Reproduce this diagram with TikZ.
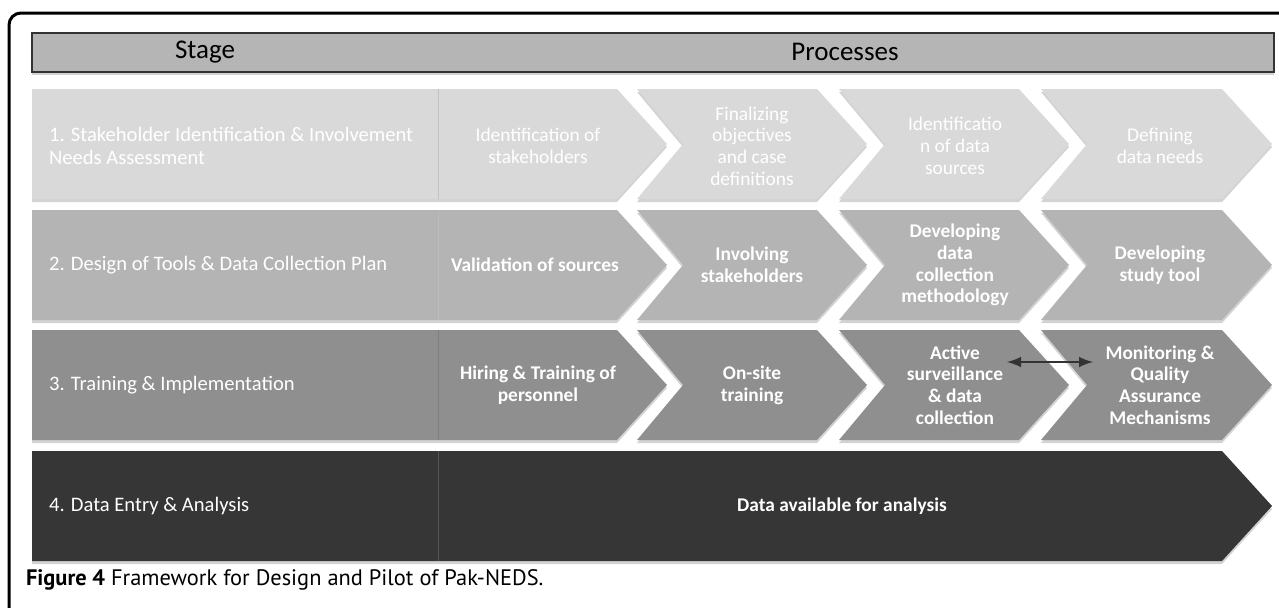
\documentclass[tikz,border=0pt]{standalone}
\usepackage{fontspec}
\setmainfont{Carlito}
\newfontfamily\capfont{PT Sans}
\usetikzlibrary{shadows}
\definecolor{rowA}{HTML}{D9D9D9}
\definecolor{rowB}{HTML}{B4B4B4}
\definecolor{rowC}{HTML}{8F8F8F}
\definecolor{rowD}{HTML}{363636}
\definecolor{headfill}{HTML}{B5B5B5}
\begin{document}
\begin{tikzpicture}[x=0.5pt,y=-0.5pt,>=latex,
    shade/.style={drop shadow={shadow xshift=0pt,shadow yshift=-1.5pt,opacity=.35}},
    stagetxt/.style={anchor=west,align=left,text=white,font=\fontsize{10.3}{11.2}\selectfont},
    proctxt/.style={align=center,text=white,font=\fontsize{9.7}{10.85}\selectfont\bfseries},
    lighttxt/.style={align=center,text=white,font=\fontsize{9.7}{10.85}\selectfont}]
		\useasboundingbox (0,0) rectangle (1279,607);
		\draw[line width=1.5pt, rounded corners=6pt] (9,13) rectangle (1300,640);
		% header bar
		\draw[fill=headfill, draw=black!80, line width=1pt, shade] (32,33) rectangle (1274,72);
		\node[font=\fontsize{13.5}{15}\selectfont] (stage) at (205,52) {Stage};
		\node[font=\fontsize{13.5}{15}\selectfont] (proc) at (845,52) {Processes};
		% row 1
		\fill[rowA, shade] (32,89) -- (617,89) -- (667,144) -- (617,199) -- (32,199) -- cycle;
		\fill[rowA, shade] (637,89) -- (817,89) -- (867,144) -- (817,199) -- (637,199) -- (683,144) -- cycle;
		\fill[rowA, shade] (839,89) -- (1019,89) -- (1069,144) -- (1019,199) -- (839,199) -- (885,144) -- cycle;
		\fill[rowA, shade] (1041,89) -- (1222,89) -- (1272,144) -- (1222,199) -- (1041,199) -- (1087,144) -- cycle;
		\draw[rowA!90!black] (438,89) -- (438,199);
		% row 2
		\fill[rowB, shade] (32,210) -- (617,210) -- (667,265) -- (617,320) -- (32,320) -- cycle;
		\fill[rowB, shade] (637,210) -- (817,210) -- (867,265) -- (817,320) -- (637,320) -- (683,265) -- cycle;
		\fill[rowB, shade] (839,210) -- (1019,210) -- (1069,265) -- (1019,320) -- (839,320) -- (885,265) -- cycle;
		\fill[rowB, shade] (1041,210) -- (1222,210) -- (1272,265) -- (1222,320) -- (1041,320) -- (1087,265) -- cycle;
		\draw[rowB!90!white] (438,210) -- (438,320);
		% row 3
		\fill[rowC, shade] (32,330) -- (617,330) -- (667,385) -- (617,440) -- (32,440) -- cycle;
		\fill[rowC, shade] (637,330) -- (817,330) -- (867,385) -- (817,440) -- (637,440) -- (683,385) -- cycle;
		\fill[rowC, shade] (839,330) -- (1019,330) -- (1069,385) -- (1019,440) -- (839,440) -- (885,385) -- cycle;
		\fill[rowC, shade] (1041,330) -- (1222,330) -- (1272,385) -- (1222,440) -- (1041,440) -- (1087,385) -- cycle;
		\draw[rowC!88!black] (438,330) -- (438,440);
		% row 4
		\fill[rowD, shade] (32,451) -- (1222,451) -- (1272,506) -- (1222,561) -- (32,561) -- cycle;
		\draw[rowD!85!white] (438,451) -- (438,561);
		% stage labels
		\node[stagetxt] (s1) at (42,146) {1. Stakeholder Identification \& Involvement\\Needs Assessment};
		\node[stagetxt] (s2) at (42,265) {2. Design of Tools \& Data Collection Plan};
		\node[stagetxt] (s3) at (42,385) {3. Training \& Implementation};
		\node[stagetxt] (s4) at (42,506) {4. Data Entry \& Analysis};
		% processes
		\node[lighttxt] (p11) at (538,146) {Identification of\\stakeholders};
		\node[lighttxt] (p12) at (752,146) {Finalizing\\objectives\\and case\\definitions};
		\node[lighttxt] (p13) at (955,146) {Identificatio\\n of data\\sources};
		\node[lighttxt] (p14) at (1160,146) {Defining\\data needs};
		\node[proctxt] (p21) at (535,265) {Validation of sources};
		\node[proctxt] (p22) at (752,265) {Involving\\stakeholders};
		\node[proctxt] (p23) at (955,265) {Developing\\data\\collection\\methodology};
		\node[proctxt] (p24) at (1160,265) {Developing\\study tool};
		\node[proctxt] (p31) at (538,385) {Hiring \& Training of\\personnel};
		\node[proctxt] (p32) at (752,385) {On-site\\training};
		\node[proctxt] (p33) at (955,385) {Active\\surveillance\\\& data\\collection};
		\node[proctxt] (p34) at (1160,385) {Monitoring \&\\Quality\\Assurance\\Mechanisms};
		\node[proctxt] (p41) at (842,506) {Data available for analysis};
		% link between surveillance and monitoring
		\coordinate (actR) at (1007,362);
		\coordinate (monL) at (1093,362);
		\draw[<->, line width=1.4pt, draw=black!80, shade] (actR) -- (monL);
		% caption
		\node[anchor=west, font=\capfont\fontsize{11.2}{13}\selectfont] (cap) at (19,580) {\textbf{Figure 4} Framework for Design and Pilot of Pak-NEDS.};
\end{tikzpicture}
\end{document}
